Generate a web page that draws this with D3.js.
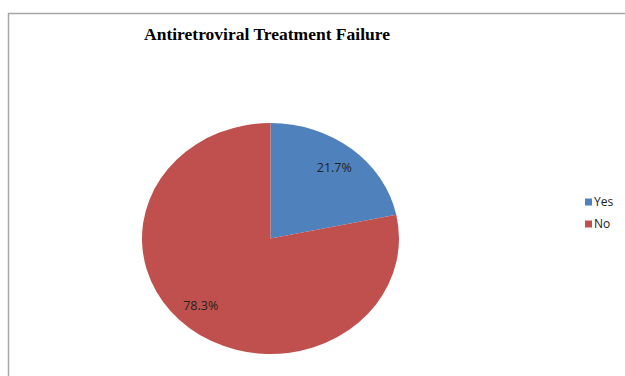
<!DOCTYPE html>
<html>
<head>
<meta charset="utf-8">
<script src="https://cdn.jsdelivr.net/npm/d3@7"></script>
<style>
  html, body { margin: 0; padding: 0; background: #fff; }
  svg { display: block; }
</style>
</head>
<body>
<svg id="chart" width="625" height="376"></svg>
<script>
const categories = ["Yes", "No"];
const values = [21.7, 78.3];
const labels = ["21.7%", "78.3%"];
const colors = ["#4F81BD", "#C0504D"];
const title = "Antiretroviral Treatment Failure";

const svg = d3.select("#chart");
const W = 625, H = 376;

// chart frame
svg.append("rect")
  .attr("x", 8.5).attr("y", 13.5)
  .attr("width", W).attr("height", H)
  .attr("fill", "#fff")
  .attr("stroke", "#a6a6a6")
  .attr("stroke-width", 1.5);

svg.append("text")
  .attr("x", 267).attr("y", 40)
  .attr("text-anchor", "middle")
  .attr("font-family", "'Liberation Serif', 'Times New Roman', serif")
  .attr("font-weight", "bold")
  .attr("font-size", 17.5)
  .attr("fill", "#000")
  .text(title);

const cx = 270.5, cy = 238.5, ry = 115.5, rx = 128.5;
const sx = rx / ry;

const pie = d3.pie().sort(null).value(d => d);
const arcs = pie(values);
const arc = d3.arc().innerRadius(0).outerRadius(ry);
const labelArc = d3.arc().innerRadius(91).outerRadius(91);

const g = svg.append("g").attr("transform", `translate(${cx},${cy}) scale(${sx},1)`);
g.selectAll("path")
  .data(arcs)
  .join("path")
  .attr("d", arc)
  .attr("fill", (d, i) => colors[i]);

svg.selectAll("text.lbl")
  .data(arcs)
  .join("text")
  .attr("class", "lbl")
  .attr("x", d => cx + labelArc.centroid(d)[0] * sx - (d.index === 1 ? 6 : 0))
  .attr("y", d => cy + labelArc.centroid(d)[1] - (d.index === 1 ? 4 : 0))
  .attr("dy", "0.35em")
  .attr("text-anchor", "middle")
  .attr("font-family", "'Open Sans', 'Liberation Sans', sans-serif")
  .attr("font-size", 12.5)
  .attr("fill", "#222")
  .text((d, i) => labels[i]);

// legend
const legendY = d3.scalePoint().domain(categories).range([202, 224]);
const lg = svg.append("g");
const items = lg.selectAll("g").data(categories).join("g")
  .attr("transform", d => `translate(585,${legendY(d)})`);
items.append("rect")
  .attr("x", 0).attr("y", -3.5)
  .attr("width", 7).attr("height", 7)
  .attr("fill", (d, i) => colors[i]);
items.append("text")
  .attr("x", 9).attr("y", 0)
  .attr("dy", "0.35em")
  .attr("font-family", "'Open Sans', 'Liberation Sans', sans-serif")
  .attr("font-size", 12)
  .attr("fill", "#222")
  .text(d => d);
</script>
</body>
</html>
